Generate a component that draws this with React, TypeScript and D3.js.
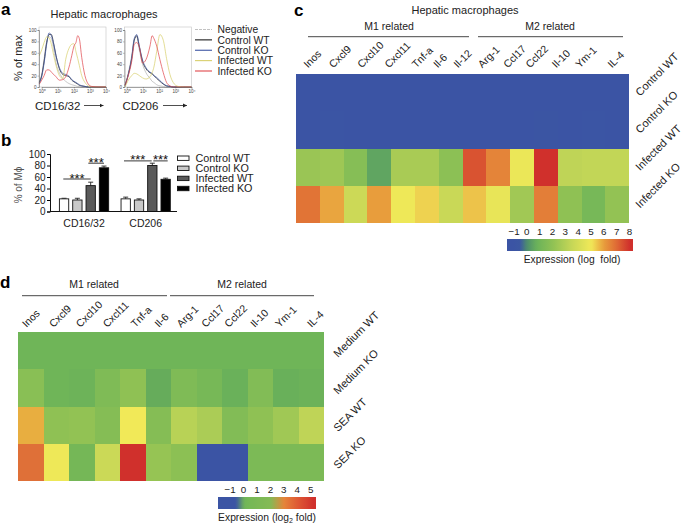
import { useEffect, useRef } from "react";
import * as d3 from "d3";

const FONT = "'Liberation Sans', Arial, sans-serif";

// panel a
const legendA = ["Negative", "Control WT", "Control KO", "Infected WT", "Infected KO"];
const lineColors = ["#b3b3b3", "#1c1c1c", "#3d55a3", "#d8cf6c", "#e0474c"];
const leftChannels = [-0.15, 0, 0.15, 0.31, 0.46, 0.6, 0.75, 0.89, 1.1, 1.31, 1.49, 1.7, 1.87, 2.01, 2.13, 2.24, 2.34, 2.49, 2.69, 2.9, 3.11, 3.52, 4];
const leftNegative = [10, 22, 50, 80, 88, 85, 65, 42, 25, 15, 10, 6, 4, 3, 2, 1, 1, 0, 0, 0, 0, 0, 0];
const leftControlWT = [8, 20, 45, 78, 92, 92, 75, 55, 32, 22, 20, 18, 12, 9, 7, 5, 3, 2, 1, 0, 0, 0, 0];
const leftControlKO = [6, 18, 42, 75, 95, 90, 75, 55, 34, 24, 22, 19, 13, 10, 8, 6, 4, 2, 1, 0, 0, 0, 0];
const leftInfectedWT = [55, 65, 78, 88, 86, 75, 55, 38, 20, 15, 48, 68, 75, 76, 62, 50, 38, 20, 8, 2, 0, 0, 0];
const leftInfectedKO = [5, 12, 20, 30, 30, 26, 22, 18, 12, 13, 18, 35, 55, 72, 78, 90, 85, 52, 20, 5, 1, 0, 0];
const rightChannels = [-0.1, 0.1, 0.31, 0.47, 0.62, 0.78, 0.98, 1.19, 1.44, 1.57, 1.68, 1.85, 2.05, 2.26, 2.46, 2.67, 2.87, 3.18, 3.59, 4];
const rightNegative = [2, 25, 55, 85, 88, 65, 40, 25, 15, 10, 8, 4, 2, 1, 0, 0, 0, 0, 0, 0];
const rightControlWT = [3, 22, 50, 82, 90, 70, 45, 32, 25, 23, 20, 15, 10, 5, 2, 1, 0, 0, 0, 0];
const rightControlKO = [3, 22, 52, 85, 92, 72, 47, 34, 26, 24, 20, 17, 11, 6, 2, 1, 0, 0, 0, 0];
const rightInfectedWT = [0, 12, 20, 24, 23, 20, 16, 14, 18, 25, 35, 62, 92, 82, 50, 22, 8, 1, 0, 0];
const rightInfectedKO = [3, 20, 45, 75, 78, 70, 42, 48, 72, 90, 85, 72, 48, 25, 8, 2, 0, 0, 0, 0];

// panel b
const barGroups = ["CD16/32", "CD206"];
const barSeries = ["Control WT", "Control KO", "Infected WT", "Infected KO"];
const barFills = ["#ffffff", "#c9c9c9", "#5a5a5a", "#000000"];
const barCD1632 = [22, 20, 45, 76];
const barCD206 = [22, 20, 80, 56];
const errCD1632 = [1, 3, 6, 3];
const errCD206 = [3, 2, 4, 2];

// panel c
const colLabelsC = ["Inos", "Cxcl9", "Cxcl10", "Cxcl11", "Tnf-a", "Il-6", "Il-12", "Arg-1", "Ccl17", "Ccl22", "Il-10", "Ym-1", "IL-4"];
const rowLabelsC = ["Control WT", "Control KO", "Infected WT", "Infected KO"];
const controlWTc = [-1, -1, -1, -1, -1, -1, -1, -1, -1, -1, -1, -1, -1, -1];
const controlKOc = [-1, -0.93, -0.95, -0.97, -1, -1, -1, -1, -0.97, -1, -0.82, -1, -0.9, -1];
const infectedWTc = [2.3, 2.4, 1.7, 0.5, 2.7, 2.7, 1.9, 7.4, 6.5, 4.8, 8, 3.3, 3.4, 3.4];
const infectedKOc = [6.8, 5.9, 3.7, 6, 4.9, 5.3, 3.6, 5.5, 4.7, 2.5, 6.6, 2, 1.2, 2.1];
const ticksC = [-1, 0, 1, 2, 3, 4, 5, 6, 7, 8];
const stopsC = [-1, -0.5, 0, 0.8, 2, 3.5, 5, 6, 7, 8];

// panel d
const colLabelsD = ["Inos", "Cxcl9", "Cxcl10", "Cxcl11", "Tnf-a", "Il-6", "Arg-1", "Ccl17", "Ccl22", "Il-10", "Ym-1", "IL-4"];
const rowLabelsD = ["Medium WT", "Medium KO", "SEA WT", "SEA KO"];
const mediumWT = [0.5, 0.5, 0.5, 0.5, 0.5, 0.5, 0.5, 0.5, 0.5, 0.5, 0.5, 0.5];
const mediumKO = [0.9, 0.5, 0.46, 0.75, 1.0, 0.3, 0.75, 0.62, 0.4, 0.8, 0.38, 0.44];
const seaWT = [3.1, 1, 1.05, 0.85, 2.6, 0.85, 1.6, 1.4, 0.8, 1, 1.25, 1.7];
const seaKO = [3.8, 2.55, 0.6, 1.9, 5, 1.1, 0.95, -1, -1, 0.7, 0.7, 0.7];
const ticksD = [-1, 0, 1, 2, 3, 4, 5];
const stopsD = [-1, -0.55, -0.2, 0.1, 0.5, 1, 1.8, 2.6, 3.1, 3.8, 5];
const barStopsD = [-1.3, -0.55, 0.05, 0.5, 2, 3, 4, 5.2];

const rampC = ["#3b54a4", "#3c58a2", "#4d8e6c", "#6bb35a", "#8fc154", "#c6d757", "#f1e958", "#e89d3c", "#df6a35", "#d0302c"];
const rampD = ["#3b54a4", "#3b54a4", "#4b8e6d", "#5ca35e", "#6fb558", "#8fc154", "#c6d757", "#f1e958", "#e8ae40", "#df7038", "#d0302c"];
const barRampD = ["#3b54a4", "#3b54a4", "#6fb558", "#76b856", "#84ba55", "#e5853a", "#df5a34", "#d0302c"];

const App = () => {
  const svgRef = useRef<SVGSVGElement>(null);

  useEffect(() => {
    const svg = d3.select(svgRef.current);
    svg.selectAll("*").remove();
    const defs = svg.append("defs");

    const text = (x: number, y: number, s: string, size: number, anchor = "start", rotate = 0) =>
      svg
        .append("text")
        .attr("transform", `translate(${x},${y}) rotate(${rotate})`)
        .attr("text-anchor", anchor)
        .attr("font-size", size)
        .attr("fill", "#222")
        .text(s);

    const rule = (x1: number, x2: number, y: number, w = 0.9, color = "#333") =>
      svg.append("line").attr("x1", x1).attr("x2", x2).attr("y1", y).attr("y2", y).attr("stroke", color).attr("stroke-width", w);

    // panel letters
    [["a", 1, 15], ["b", 1, 146], ["c", 294, 16], ["d", 0, 288]].forEach(([s, x, y]) =>
      text(x as number, y as number, s as string, 17).attr("font-weight", "bold").attr("fill", "#000"),
    );

    // a: histograms
    text(104, 18, "Hepatic macrophages", 11, "middle");
    const yHist = d3.scaleLinear().domain([0, 100]).range([87, 30]);
    const drawHist = (x0: number, x1: number, zero: number, channels: number[], curves: number[][]) => {
      const x = d3.scaleLinear().domain([0, 4]).range([zero, x1]);
      svg.append("rect").attr("x", x0).attr("y", 27).attr("width", x1 - x0).attr("height", 60).attr("fill", "none").attr("stroke", "#c4c4c4").attr("stroke-width", 0.6);
      const line = d3
        .line<number>()
        .x((_, i) => x(channels[i]))
        .y((d) => yHist(d))
        .curve(d3.curveMonotoneX);
      curves.forEach((c, i) => {
        svg
          .append("path")
          .attr("d", line(c))
          .attr("fill", "none")
          .attr("stroke", lineColors[i])
          .attr("stroke-width", 0.8)
          .attr("stroke-opacity", 0.9);
      });
      const ax = svg
        .append("g")
        .attr("transform", `translate(${x0},0)`)
        .call(d3.axisLeft(yHist).tickValues([0, 20, 40, 60, 80, 100]).tickSize(1.5).tickPadding(1));
      ax.select(".domain").attr("stroke", "#555").attr("stroke-width", 0.5);
      ax.selectAll("line").attr("stroke", "#555").attr("stroke-width", 0.4);
      ax.selectAll("text").attr("font-size", 4.6).attr("font-family", FONT).attr("fill", "#444");
      const bx = svg
        .append("g")
        .attr("transform", "translate(0,87)")
        .call(d3.axisBottom(x).tickValues([0, 1, 2, 3, 4]).tickSize(1.5).tickPadding(1).tickFormat((d) => `10${"⁰¹²³⁴"[+d]}`));
      bx.select(".domain").attr("stroke", "#555").attr("stroke-width", 0.5);
      bx.selectAll("line").attr("stroke", "#555").attr("stroke-width", 0.4);
      bx.selectAll("text").attr("font-size", 4.6).attr("font-family", FONT).attr("fill", "#444");
    };
    drawHist(39, 106, 41.7, leftChannels, [leftNegative, leftControlWT, leftControlKO, leftInfectedWT, leftInfectedKO]);
    drawHist(124.5, 191.5, 126.7, rightChannels, [rightNegative, rightControlWT, rightControlKO, rightInfectedWT, rightInfectedKO]);
    text(22, 58, "% of max", 11, "middle", -90);
    text(35, 110, "CD16/32", 11.5);
    text(122.5, 110, "CD206", 11.5);
    svg
      .append("marker")
      .attr("id", "arrow")
      .attr("markerWidth", 5)
      .attr("markerHeight", 5)
      .attr("refX", 4)
      .attr("refY", 2.5)
      .attr("orient", "auto")
      .attr("markerUnits", "userSpaceOnUse")
      .append("path")
      .attr("d", "M0,0.5L4,2.5L0,4.5Z")
      .attr("fill", "#222");
    [[84, 103.5], [163, 187]].forEach(([a, b]) =>
      rule(a, b, 105.5, 0.8, "#222").attr("marker-end", "url(#arrow)"),
    );
    const legY = d3.scalePoint<string>().domain(legendA).range([29.5, 71]);
    legendA.forEach((s, i) => {
      const l = rule(195, 212, legY(s)!, i === 0 ? 0.8 : 1.1, lineColors[i]);
      if (i === 0) l.attr("stroke-dasharray", "3 1");
      text(217.5, legY(s)! + 3.7, s, 10.3);
    });

    // b: bars
    const yBar = d3.scaleLinear().domain([0, 100]).range([211.5, 154]);
    const xGroup = d3.scaleBand<string>().domain(barGroups).range([57.4, 172.3]).paddingInner(0.136);
    const xSub = d3.scaleBand<string>().domain(barSeries).range([0, xGroup.bandwidth()]).paddingInner(0.3).paddingOuter(0.15);
    barGroups.forEach((g, gi) => {
      const vals = gi === 0 ? barCD1632 : barCD206;
      const errs = gi === 0 ? errCD1632 : errCD206;
      barSeries.forEach((s, i) => {
        const x = xGroup(g)! + xSub(s)!;
        const cx = x + xSub.bandwidth() / 2;
        svg.append("line").attr("x1", cx).attr("x2", cx).attr("y1", yBar(vals[i])).attr("y2", yBar(vals[i] + errs[i])).attr("stroke", "#222").attr("stroke-width", 0.9);
        svg.append("line").attr("x1", cx - 2.5).attr("x2", cx + 2.5).attr("y1", yBar(vals[i] + errs[i])).attr("y2", yBar(vals[i] + errs[i])).attr("stroke", "#222").attr("stroke-width", 0.9);
        svg
          .append("rect")
          .attr("x", x)
          .attr("y", yBar(vals[i]))
          .attr("width", xSub.bandwidth())
          .attr("height", yBar(0) - yBar(vals[i]))
          .attr("fill", barFills[i])
          .attr("stroke", "#111")
          .attr("stroke-width", 0.9);
      });
    });
    const yAxisBar = svg
      .append("g")
      .attr("transform", "translate(50,0)")
      .call(d3.axisLeft(yBar).tickValues([0, 20, 40, 60, 80, 100]).tickSize(3).tickPadding(1.5));
    yAxisBar.select(".domain").attr("stroke", "#111");
    yAxisBar.selectAll("text").attr("font-size", 10).attr("font-family", FONT).attr("fill", "#222");
    rule(50, 177, 211.5, 1, "#111");
    text(22, 185, "% of Mϕ", 10, "middle", -90).attr("fill", "#555");
    barGroups.forEach((g) => text(xGroup(g)! + xGroup.bandwidth() / 2, 227, g, 10.5, "middle"));
    [[63.3, 90.7, 56.5], [88.3, 104, 84], [124, 151.7, 88], [153.3, 167.7, 88]].forEach(([a, b, v]) => {
      rule(a, b, yBar(v), 0.9, "#222");
      text((a + b) / 2, yBar(v) + 3.5, "***", 13, "middle").attr("fill", "#111");
    });
    const legB = d3.scalePoint<string>().domain(barSeries).range([158.2, 188.5]);
    barSeries.forEach((s, i) => {
      svg.append("rect").attr("x", 177.5).attr("y", legB(s)! - 2.2).attr("width", 11.5).attr("height", 4.4).attr("fill", barFills[i]).attr("stroke", "#111").attr("stroke-width", 0.9);
      text(195.5, legB(s)! + 3.8, s, 10.8);
    });

    const drawHeat = (
      x0: number,
      x1: number,
      y0: number,
      y1: number,
      rows: string[],
      values: number[][],
      color: (v: number) => string,
    ) => {
      const xs = d3.scaleBand<number>().domain(d3.range(values[0].length)).range([x0, x1]);
      const ys = d3.scaleBand<string>().domain(rows).range([y0, y1]);
      rows.forEach((r, ri) => {
        values[ri].forEach((v, ci) => {
          svg
            .append("rect")
            .attr("x", xs(ci)!)
            .attr("y", ys(r)!)
            .attr("width", xs.bandwidth())
            .attr("height", ys.bandwidth())
            .attr("fill", color(v))
            .attr("shape-rendering", "crispEdges");
        });
      });
      return ys;
    };

    const drawColorBar = (id: string, x0: number, x1: number, y: number, scale: d3.ScaleLinear<number, number>, ticks: number[], color: (v: number) => string) => {
      const grad = defs.append("linearGradient").attr("id", id);
      d3.range(0, 41).forEach((i) => {
        const t = i / 40;
        grad.append("stop").attr("offset", t).attr("stop-color", color(scale.invert(x0 + t * (x1 - x0))));
      });
      svg.append("rect").attr("x", x0).attr("y", y).attr("width", x1 - x0).attr("height", 12).attr("fill", `url(#${id})`);
      ticks.forEach((t) => text(scale(t), y - 4, t < 0 ? `−${-t}` : `${t}`, 9.8, "middle"));
    };

    // c: heatmap
    const colorC = d3.scaleLinear<string>().domain(stopsC).range(rampC).clamp(true);
    text(465, 13.5, "Hepatic macrophages", 11, "middle");
    text(389, 30, "M1 related", 10.5, "middle");
    text(550, 30, "M2 related", 10.5, "middle");
    rule(308, 469, 36.7);
    rule(478, 623, 36.7);
    const ysC = drawHeat(296, 629.3, 74, 223.3, rowLabelsC, [controlWTc, controlKOc, infectedWTc, infectedKOc], colorC);
    const labC = d3.scalePoint<string>().domain(colLabelsC).range([308, 612]);
    const nudgeC = [0, 0, 3, 5, 7, 3, -2, -3, -3, -6, -5, -7, 0];
    colLabelsC.forEach((s, i) => text(labC(s)! + nudgeC[i], 68.5, s, 10.5, "start", -45));
    rowLabelsC.forEach((s) => text(640, ysC(s)! + ysC.bandwidth() / 2 + 4, s, 11, "start", -45));
    drawColorBar("gradC", 507, 633, 239, d3.scaleLinear().domain([-1, 8]).range([514, 629.5]), ticksC, colorC);
    text(572, 263, "Expression (log  fold)", 10.3, "middle").attr("xml:space", "preserve").style("white-space", "pre");

    // d: heatmap
    const colorD = d3.scaleLinear<string>().domain(stopsD).range(rampD).clamp(true);
    const barColorD = d3.scaleLinear<string>().domain(barStopsD).range(barRampD).clamp(true);
    text(94, 287.5, "M1 related", 10.5, "middle");
    text(242, 287.5, "M2 related", 10.5, "middle");
    rule(22, 167, 295.7);
    rule(170, 314, 295.7);
    const ysD = drawHeat(18.3, 324, 332.3, 481, rowLabelsD, [mediumWT, mediumKO, seaWT, seaKO], colorD);
    const labD = d3.scalePoint<string>().domain(colLabelsD).range([26.5, 311.5]);
    const nudgeD = [0, 1, 2, 3, 5, 3, -1, -2, -5, -5, -6, 0];
    colLabelsD.forEach((s, i) => text(labD(s)! + nudgeD[i], 328, s, 10.5, "start", -45));
    rowLabelsD.forEach((s) => text(338, ysD(s)! + ysD.bandwidth() / 2 + 7, s, 11, "start", -45));
    drawColorBar("gradD", 218, 316, 497, d3.scaleLinear().domain([-1, 5]).range([230, 310.7]), ticksD, barColorD);
    const exp = text(267, 520.5, "Expression (log", 10.3, "middle");
    exp.append("tspan").attr("font-size", 7).attr("dy", 2).text("2");
    exp.append("tspan").attr("dy", -2).text(" fold)");
  }, []);

  return (
    <svg
      ref={svgRef}
      width={685}
      height={527}
      style={{ position: "absolute", left: 0, top: 0, background: "#fff", fontFamily: FONT }}
    />
  );
};

export default App;
